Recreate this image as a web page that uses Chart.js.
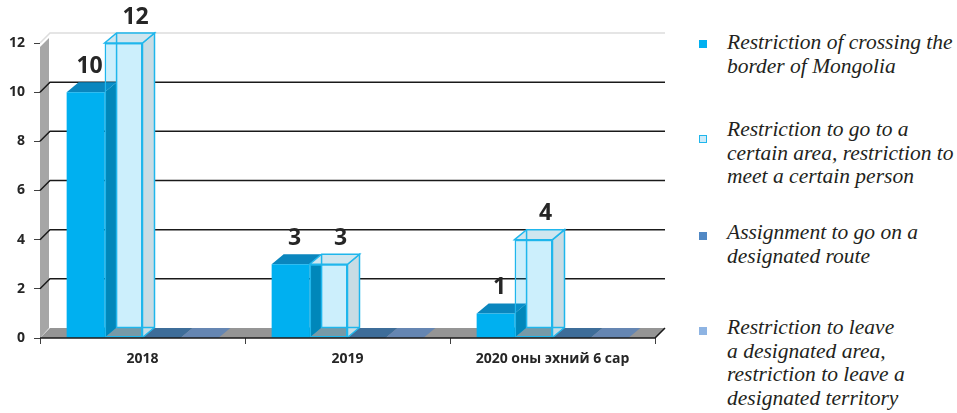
<html>

<head>
  <title>Restrictions chart</title>
  <script src="https://cdn.jsdelivr.net/npm/chart.js"></script>
  <style>
    body {
      margin: 0;
      background: #fff;
    }

    #wrap {
      position: relative;
      width: 957px;
      height: 413px;
      overflow: hidden;
    }

    #chart {
      position: absolute;
      left: 0;
      top: 0;
    }

    .legend-item {
      position: absolute;
      left: 727px;
      width: 240px;
      font-family: 'Liberation Serif', serif;
      font-style: italic;
      font-size: 21.5px;
      line-height: 23.5px;
      color: #231f20;
      white-space: pre-line;
    }

    .legend-box {
      position: absolute;
      left: 699px;
      width: 8px;
      height: 8px;
      box-sizing: border-box;
    }
  </style>
</head>

<body>
  <div id="wrap">
    <canvas id="chart" width="680" height="413"></canvas>
    <div id="legend"></div>
  </div>

  <script>
    // data
    const categories = ['2018', '2019', '2020 оны эхний 6 сар'];
    const seriesNames = [
      'Restriction of crossing the\nborder of Mongolia',
      'Restriction to go to a\ncertain area, restriction to\nmeet a certain person',
      'Assignment to go on a\ndesignated route',
      'Restriction to leave\na designated area,\nrestriction to leave a\ndesignated territory'
    ];
    const crossingBorder = [10, 3, 1];
    const certainArea = [12, 3, 4];
    const designatedRoute = [0, 0, 0];
    const leaveArea = [0, 0, 0];
    const yTicks = [0, 2, 4, 6, 8, 10, 12];

    // look
    const frontColors = ['#00B0F0', 'rgba(0,176,240,0.2)', '#3E6D99', '#6586B2'];
    const floorColors = ['#00B0F0', '#959595', '#3E6D99', '#6586B2'];
    const markerFill = ['#00B0F0', '#CDEBF9', '#5088C4', '#8EB4E3'];
    const markerBorder = ['#00B0F0', '#1FB6EC', '#5088C4', '#8EB4E3'];
    const legendTops = [31, 118, 221, 316];
    const markerTops = [40, 135, 232, 327];

    const DX = 12, DY = 10, WX = 10;

    function poly(ctx, pts, fill, stroke) {
      ctx.beginPath();
      ctx.moveTo(pts[0][0], pts[0][1]);
      for (let i = 1; i < pts.length; i++) ctx.lineTo(pts[i][0], pts[i][1]);
      ctx.closePath();
      if (fill) { ctx.fillStyle = fill; ctx.fill(); }
      if (stroke) { ctx.strokeStyle = stroke; ctx.stroke(); }
    }

    function barBox(el) {
      const half = el.width / 2;
      return { l: el.x - half, r: el.x + half, t: el.y, b: el.base };
    }

    const threeD = {
      id: 'threeD',
      beforeDatasetsDraw(chart) {
        const { ctx, chartArea: a, scales: { y } } = chart;
        ctx.save();
        // left wall
        poly(ctx, [[a.left, a.top + 4], [a.left + WX - 1, a.top - 5], [a.left + WX - 1, a.bottom - DY], [a.left, a.bottom]], '#A6A6A6');
        // back wall grid lines
        ctx.lineWidth = 1.5;
        yTicks.forEach(v => {
          if (v === 0) return;
          const py = y.getPixelForValue(v);
          ctx.strokeStyle = v === y.max ? '#DDDDDD' : '#1A1A1A';
          ctx.beginPath();
          ctx.moveTo(a.left, py);
          ctx.lineTo(a.left + WX, py - DY);
          ctx.lineTo(a.right + WX, py - DY);
          ctx.stroke();
        });
        // floor
        poly(ctx, [[a.left, a.bottom], [a.left + WX, a.bottom - DY], [a.right + WX, a.bottom - DY], [a.right, a.bottom]], '#959595');
        chart.data.datasets.forEach((ds, di) => {
          chart.getDatasetMeta(di).data.forEach((el) => {
            const b = barBox(el);
            poly(ctx, [[b.l, b.b], [b.l + DX, b.b - DY], [b.r + DX, b.b - DY], [b.r, b.b]], floorColors[di]);
          });
        });
        // back face of the see-through bars
        chart.getDatasetMeta(1).data.forEach((el) => {
          const b = barBox(el);
          if (b.b - b.t < 1) return;
          ctx.fillStyle = '#FFFFFF';
          ctx.fillRect(b.l + DX, b.t - DY, b.r - b.l, b.b - b.t);
        });
        // side and top of the solid bars
        chart.getDatasetMeta(0).data.forEach((el) => {
          const b = barBox(el);
          if (b.b - b.t < 1) return;
          poly(ctx, [[b.r, b.t], [b.r + DX, b.t - DY], [b.r + DX, b.b - DY], [b.r, b.b]], '#007DAD');
          poly(ctx, [[b.l, b.t], [b.l + DX, b.t - DY], [b.r + DX, b.t - DY], [b.r, b.t]], '#0A86BE');
        });
        ctx.restore();
      },
      afterDatasetsDraw(chart) {
        const { ctx, chartArea: a } = chart;
        ctx.save();
        // see-through bars: side, top and edges
        ctx.lineWidth = 1.5;
        chart.getDatasetMeta(1).data.forEach((el) => {
          const b = barBox(el);
          if (b.b - b.t < 1) return;
          poly(ctx, [[b.r, b.t], [b.r + DX, b.t - DY], [b.r + DX, b.b - DY], [b.r, b.b]], '#C8DCE4', '#1FB6EC');
          poly(ctx, [[b.l, b.t], [b.l + DX, b.t - DY], [b.r + DX, b.t - DY], [b.r, b.t]], '#CFE6EF', '#1FB6EC');
          ctx.strokeStyle = '#1FB6EC';
          ctx.beginPath();
          ctx.moveTo(b.l + DX, b.t - DY);
          ctx.lineTo(b.l + DX, b.b - DY);
          ctx.lineTo(b.r + DX, b.b - DY);
          ctx.stroke();
        });
        // front edge of the floor
        ctx.strokeStyle = '#1A1A1A';
        ctx.lineWidth = 1.5;
        ctx.beginPath();
        ctx.moveTo(a.left, a.bottom);
        ctx.lineTo(a.right, a.bottom);
        ctx.lineTo(a.right + WX, a.bottom - DY);
        ctx.stroke();
        // value labels
        ctx.fillStyle = '#262626';
        ctx.font = 'bold 23px "Open Sans"';
        ctx.textAlign = 'center';
        ctx.textBaseline = 'middle';
        [0, 1].forEach((di) => {
          const ds = chart.data.datasets[di];
          chart.getDatasetMeta(di).data.forEach((el, i) => {
            if (!ds.data[i]) return;
            ctx.fillText(String(ds.data[i]), el.x + (di === 0 ? 4 : 12), el.y - 26);
          });
        });
        ctx.restore();
      }
    };

    const tickFont = { family: '"Open Sans"', size: 14, weight: 'bold' };

    const chart = new Chart('chart', {
      type: 'bar',
      data: {
        labels: categories,
        datasets: [
          { label: seriesNames[0], data: crossingBorder, backgroundColor: frontColors[0], borderWidth: 0 },
          { label: seriesNames[1], data: certainArea, backgroundColor: frontColors[1], borderColor: '#1FB6EC', borderWidth: 1.5, borderSkipped: false },
          { label: seriesNames[2], data: designatedRoute, backgroundColor: frontColors[2], borderWidth: 0 },
          { label: seriesNames[3], data: leaveArea, backgroundColor: frontColors[3], borderWidth: 0 }
        ]
      },
      options: {
        responsive: false,
        devicePixelRatio: 1,
        animation: false,
        datasets: { bar: { categoryPercentage: 0.74, barPercentage: 1 } },
        layout: { padding: { top: 43, right: 25, left: 0, bottom: 0 } },
        plugins: { legend: { display: false }, tooltip: { enabled: false } },
        scales: {
          x: {
            grid: { drawOnChartArea: false, tickLength: 6, color: '#404040', offset: true },
            border: { display: false },
            ticks: { font: tickFont, color: '#262626', padding: 7 },
            afterFit: (s) => { s.height = 75; }
          },
          y: {
            min: 0,
            max: 12,
            grid: { drawOnChartArea: false, tickLength: 6, color: '#404040' },
            border: { display: false },
            ticks: { stepSize: 2, font: tickFont, color: '#262626', padding: 9 },
            afterFit: (s) => { s.width = 40; }
          }
        }
      },
      plugins: [threeD]
    });

    // legend on the right
    const legendEl = document.getElementById('legend');
    seriesNames.forEach((name, i) => {
      const box = document.createElement('div');
      box.className = 'legend-box';
      box.style.top = markerTops[i] + 'px';
      box.style.background = markerFill[i];
      box.style.border = '1px solid ' + markerBorder[i];
      legendEl.appendChild(box);
      const item = document.createElement('div');
      item.className = 'legend-item';
      item.style.top = legendTops[i] + 'px';
      item.textContent = name;
      legendEl.appendChild(item);
    });
  </script>
</body>

</html>
